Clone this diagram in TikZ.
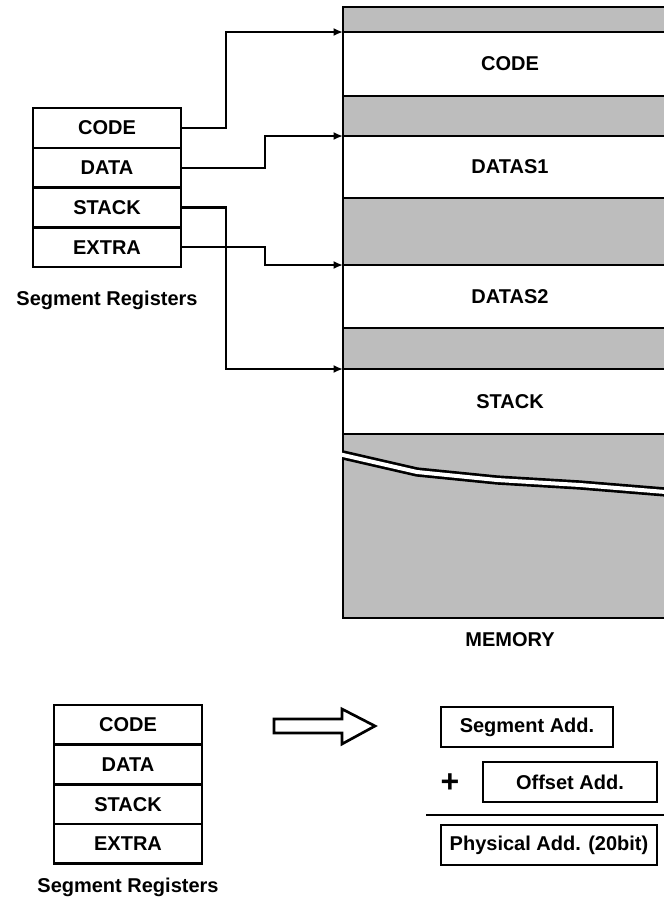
\documentclass[tikz,border=0pt]{standalone}
\usepackage{fontspec}
\setmainfont{Liberation Sans}
\usetikzlibrary{arrows.meta,positioning}
\definecolor{memgray}{HTML}{BDBDBD}
\newcommand\regfont{\fontsize{15}{18}\selectfont\bfseries}
\tikzset{
  every picture/.style={line join=miter, >=Latex},
  reg/.style={draw, line width=2pt, minimum width=111pt, minimum height=29.8pt, inner sep=0pt, outer sep=0pt, font=\regfont},
  lbl/.style={font=\regfont, inner sep=0pt},
  band/.style={fill=memgray, draw, line width=2pt},
  flow/.style={line width=1.8pt, -{Latex[length=7pt,width=6pt]}},
  addbox/.style={draw, line width=2pt, minimum height=30pt, inner sep=0pt, font=\regfont},
}

\begin{document}
\begin{tikzpicture}[x=0.75pt,y=-0.75pt]
\clip (0,0) rectangle (664,901);
% memory map
\filldraw[band] (343,7) rectangle (690,32);
\filldraw[band] (343,96) rectangle (690,136);
\filldraw[band] (343,198) rectangle (690,265);
\filldraw[band] (343,328) rectangle (690,369);
\filldraw[band] (343,434) rectangle (690,618);
\draw[line width=2pt] (690,7) -- (343,7) -- (343,618) -- (690,618);
% break in the free area
\draw[line width=7pt] (343,455) -- (417,472) -- (497,480) -- (580,485) -- (690,494);
\draw[line width=3pt, white] (334,453) -- (343,455) -- (417,472) -- (497,480) -- (580,485) -- (690,494);
\node[lbl] (mcode) at (510,64) {CODE};
\node[lbl] (mds1) at (510,167) {DATAS1};
\node[lbl] (mds2) at (510,296.5) {DATAS2};
\node[lbl] (mstack) at (510,401.5) {STACK};
\node[lbl] (mem) at (510,640) {MEMORY};
\coordinate (m1) at (343,32);
\coordinate (m2) at (343,136);
\coordinate (m3) at (343,265);
\coordinate (m4) at (343,369);

% segment registers, top
\node[reg] (rc) at (107,128) {CODE};
\node[reg, below=0pt of rc] (rd) {DATA};
\node[reg, below=0pt of rd] (rs) {STACK};
\node[reg, below=0pt of rs] (re) {EXTRA};
\node[lbl] (rtitle) at (107,300) {Segment Registers};
\draw[flow] (rc.east) -- ++(45,0) |- (m1);
\draw[flow] (rd.east) -- ++(84,0) |- (m2);
\draw[flow] (rs.east) -- ++(45,0) |- (m4);
\draw[flow] (re.east) -- ++(84,0) |- (m3);

% segment registers, bottom
\node[reg] (bc) at (128,724.75) {CODE};
\node[reg, below=0pt of bc] (bd) {DATA};
\node[reg, below=0pt of bd] (bs) {STACK};
\node[reg, below=0pt of bs] (be) {EXTRA};
\node[lbl] (btitle) at (128,887) {Segment Registers};
\draw[line width=2pt] (274,719) -- (342,719) -- (342,709) -- (375,726) -- (342,744) -- (342,733) -- (274,733) -- cycle;

% address sum
\node[addbox, minimum width=129pt] (seg) at (527,727) {Segment Add.};
\node[addbox, minimum width=130.5pt] (off) at (570,782) {Offset Add.};
\node[lbl, font=\fontsize{24}{24}\selectfont\bfseries] (plus) at (450,783) {+};
\draw[line width=2pt] (426,815) -- (690,815);
\node[addbox, minimum width=162pt] (phys) at (549,845) {Physical Add. (20bit)};
\end{tikzpicture}
\end{document}
